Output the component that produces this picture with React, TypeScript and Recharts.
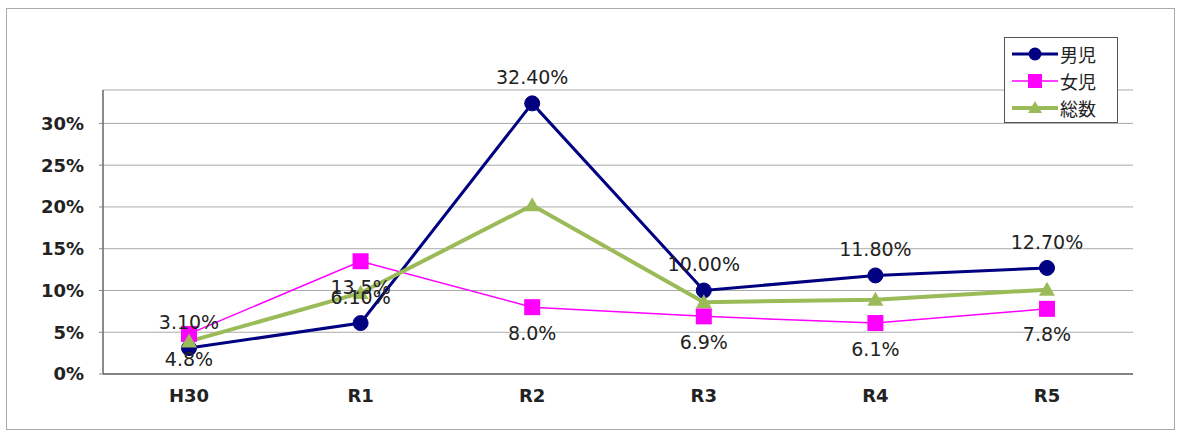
import React from "react";
import {
  LineChart, Line, XAxis, YAxis, CartesianGrid, LabelList, Legend,
} from "recharts";

// 年度
const categories = ["H30", "R1", "R2", "R3", "R4", "R5"];
// 割合（%）
const boys = [3.1, 6.1, 32.4, 10.0, 11.8, 12.7];
const girls = [4.8, 13.5, 8.0, 6.9, 6.1, 7.8];
const total = [3.9, 9.7, 20.2, 8.6, 8.9, 10.1];
const yTicks = [0, 5, 10, 15, 20, 25, 30];

const data = categories.map((c, i) => ({
  year: c,
  boys: boys[i],
  girls: girls[i],
  total: total[i],
}));

const NAVY = "#000080";
const MAGENTA = "#FF00FF";
const GREEN = "#9BBB59";
const FONT = "'DejaVu Sans', sans-serif";
const JP_FONT = "'Noto Sans CJK JP', sans-serif";

const circleDot = (p: any) => (
  <circle key={`b-${p.index}`} cx={p.cx} cy={p.cy} r={7.5} fill={NAVY} stroke={NAVY} />
);
const squareDot = (p: any) => (
  <rect key={`g-${p.index}`} x={p.cx - 8} y={p.cy - 8} width={16} height={16} fill={MAGENTA} />
);
const triangleDot = (p: any) => (
  <polygon
    key={`t-${p.index}`}
    points={`${p.cx},${p.cy - 8} ${p.cx + 8},${p.cy + 6} ${p.cx - 8},${p.cy + 6}`}
    fill={GREEN}
  />
);

const legendItems = [
  { name: "男児", color: NAVY, width: 3, marker: "circle" },
  { name: "女児", color: MAGENTA, width: 1.5, marker: "square" },
  { name: "総数", color: GREEN, width: 4, marker: "triangle" },
];

const LegendBox = () => (
  <div
    style={{
      width: 114,
      height: 86,
      border: "1.5px solid #555",
      background: "#fff",
      boxSizing: "border-box",
      padding: "0 0 0 7px",
    }}
  >
    {legendItems.map((it, i) => (
      <div key={it.name} style={{ display: "flex", alignItems: "center", height: 27, marginTop: i === 0 ? 2 : 0 }}>
        <svg width={46} height={20}>
          <line x1={0} y1={10} x2={46} y2={10} stroke={it.color} strokeWidth={it.width} />
          {it.marker === "circle" && <circle cx={23} cy={10} r={6.5} fill={it.color} />}
          {it.marker === "square" && <rect x={16} y={3} width={14} height={14} fill={it.color} />}
          {it.marker === "triangle" && <polygon points="23,3 30,15 16,15" fill={it.color} />}
        </svg>
        <span style={{ fontFamily: JP_FONT, fontSize: 18, color: "#222", marginLeft: 2, lineHeight: "20px" }}>
          {it.name}
        </span>
      </div>
    ))}
  </div>
);

const labelStyle = { fontFamily: FONT, fontSize: 19, fill: "#222" };
const tickStyle = { fontFamily: FONT, fontSize: 18, fontWeight: "bold", fill: "#222" };

export default function App() {
  return (
    <div style={{ position: "absolute", left: 0, top: 0, width: 1178, height: 432, background: "#fff" }}>
      <div
        style={{
          position: "absolute",
          left: 6,
          top: 8,
          width: 1169,
          height: 422,
          border: "1px solid #aaa",
          boxSizing: "border-box",
        }}
      />
      <div style={{ position: "absolute", left: 0, top: 0 }}>
        <LineChart
          width={1178}
          height={432}
          data={data}
          margin={{ top: 90, right: 45, bottom: 0, left: 0 }}
        >
          <CartesianGrid vertical={false} stroke="#aaa" strokeWidth={1} />
          <XAxis
            dataKey="year"
            height={58}
            padding={{ left: 86, right: 86 }}
            axisLine={{ stroke: "#666", strokeWidth: 1.5 }}
            tickLine={false}
            tickSize={0}
            tickMargin={15}
            tick={tickStyle}
          />
          <XAxis xAxisId="top" orientation="top" dataKey="year" height={0} tick={false} tickLine={false}
            axisLine={{ stroke: "#666", strokeWidth: 1.5 }} />
          <YAxis
            width={103}
            domain={[0, 34]}
            ticks={yTicks}
            allowDataOverflow
            tickFormatter={(v: number) => `${v}%`}
            axisLine={{ stroke: "#666", strokeWidth: 1.5 }}
            tickLine={{ stroke: "#888" }}
            tickSize={4}
            tickMargin={15}
            tick={tickStyle}
          />
          <YAxis yAxisId="right" orientation="right" width={0} domain={[0, 34]} tick={false} tickLine={false}
            axisLine={{ stroke: "#666", strokeWidth: 1.5 }} />
          <Legend
            layout="vertical"
            align="center"
            verticalAlign="middle"
            content={() => <LegendBox />}
            wrapperStyle={{ position: "absolute", left: 1004, top: 37, width: 114, height: 86 }}
          />
          <Line
            dataKey="boys"
            name="男児"
            stroke={NAVY}
            strokeWidth={3}
            dot={circleDot}
            activeDot={false}
            isAnimationActive={false}
          >
            <LabelList
              dataKey="boys"
              position="top"
              offset={19}
              formatter={(v: any) => `${Number(v).toFixed(2)}%`}
              style={labelStyle}
            />
          </Line>
          <Line
            dataKey="girls"
            name="女児"
            stroke={MAGENTA}
            strokeWidth={1.5}
            dot={squareDot}
            activeDot={false}
            isAnimationActive={false}
          >
            <LabelList
              dataKey="girls"
              position="bottom"
              offset={19}
              formatter={(v: any) => `${Number(v).toFixed(1)}%`}
              style={labelStyle}
            />
          </Line>
          <Line
            dataKey="total"
            name="総数"
            stroke={GREEN}
            strokeWidth={4}
            dot={triangleDot}
            activeDot={false}
            isAnimationActive={false}
          />
        </LineChart>
      </div>
    </div>
  );
}
